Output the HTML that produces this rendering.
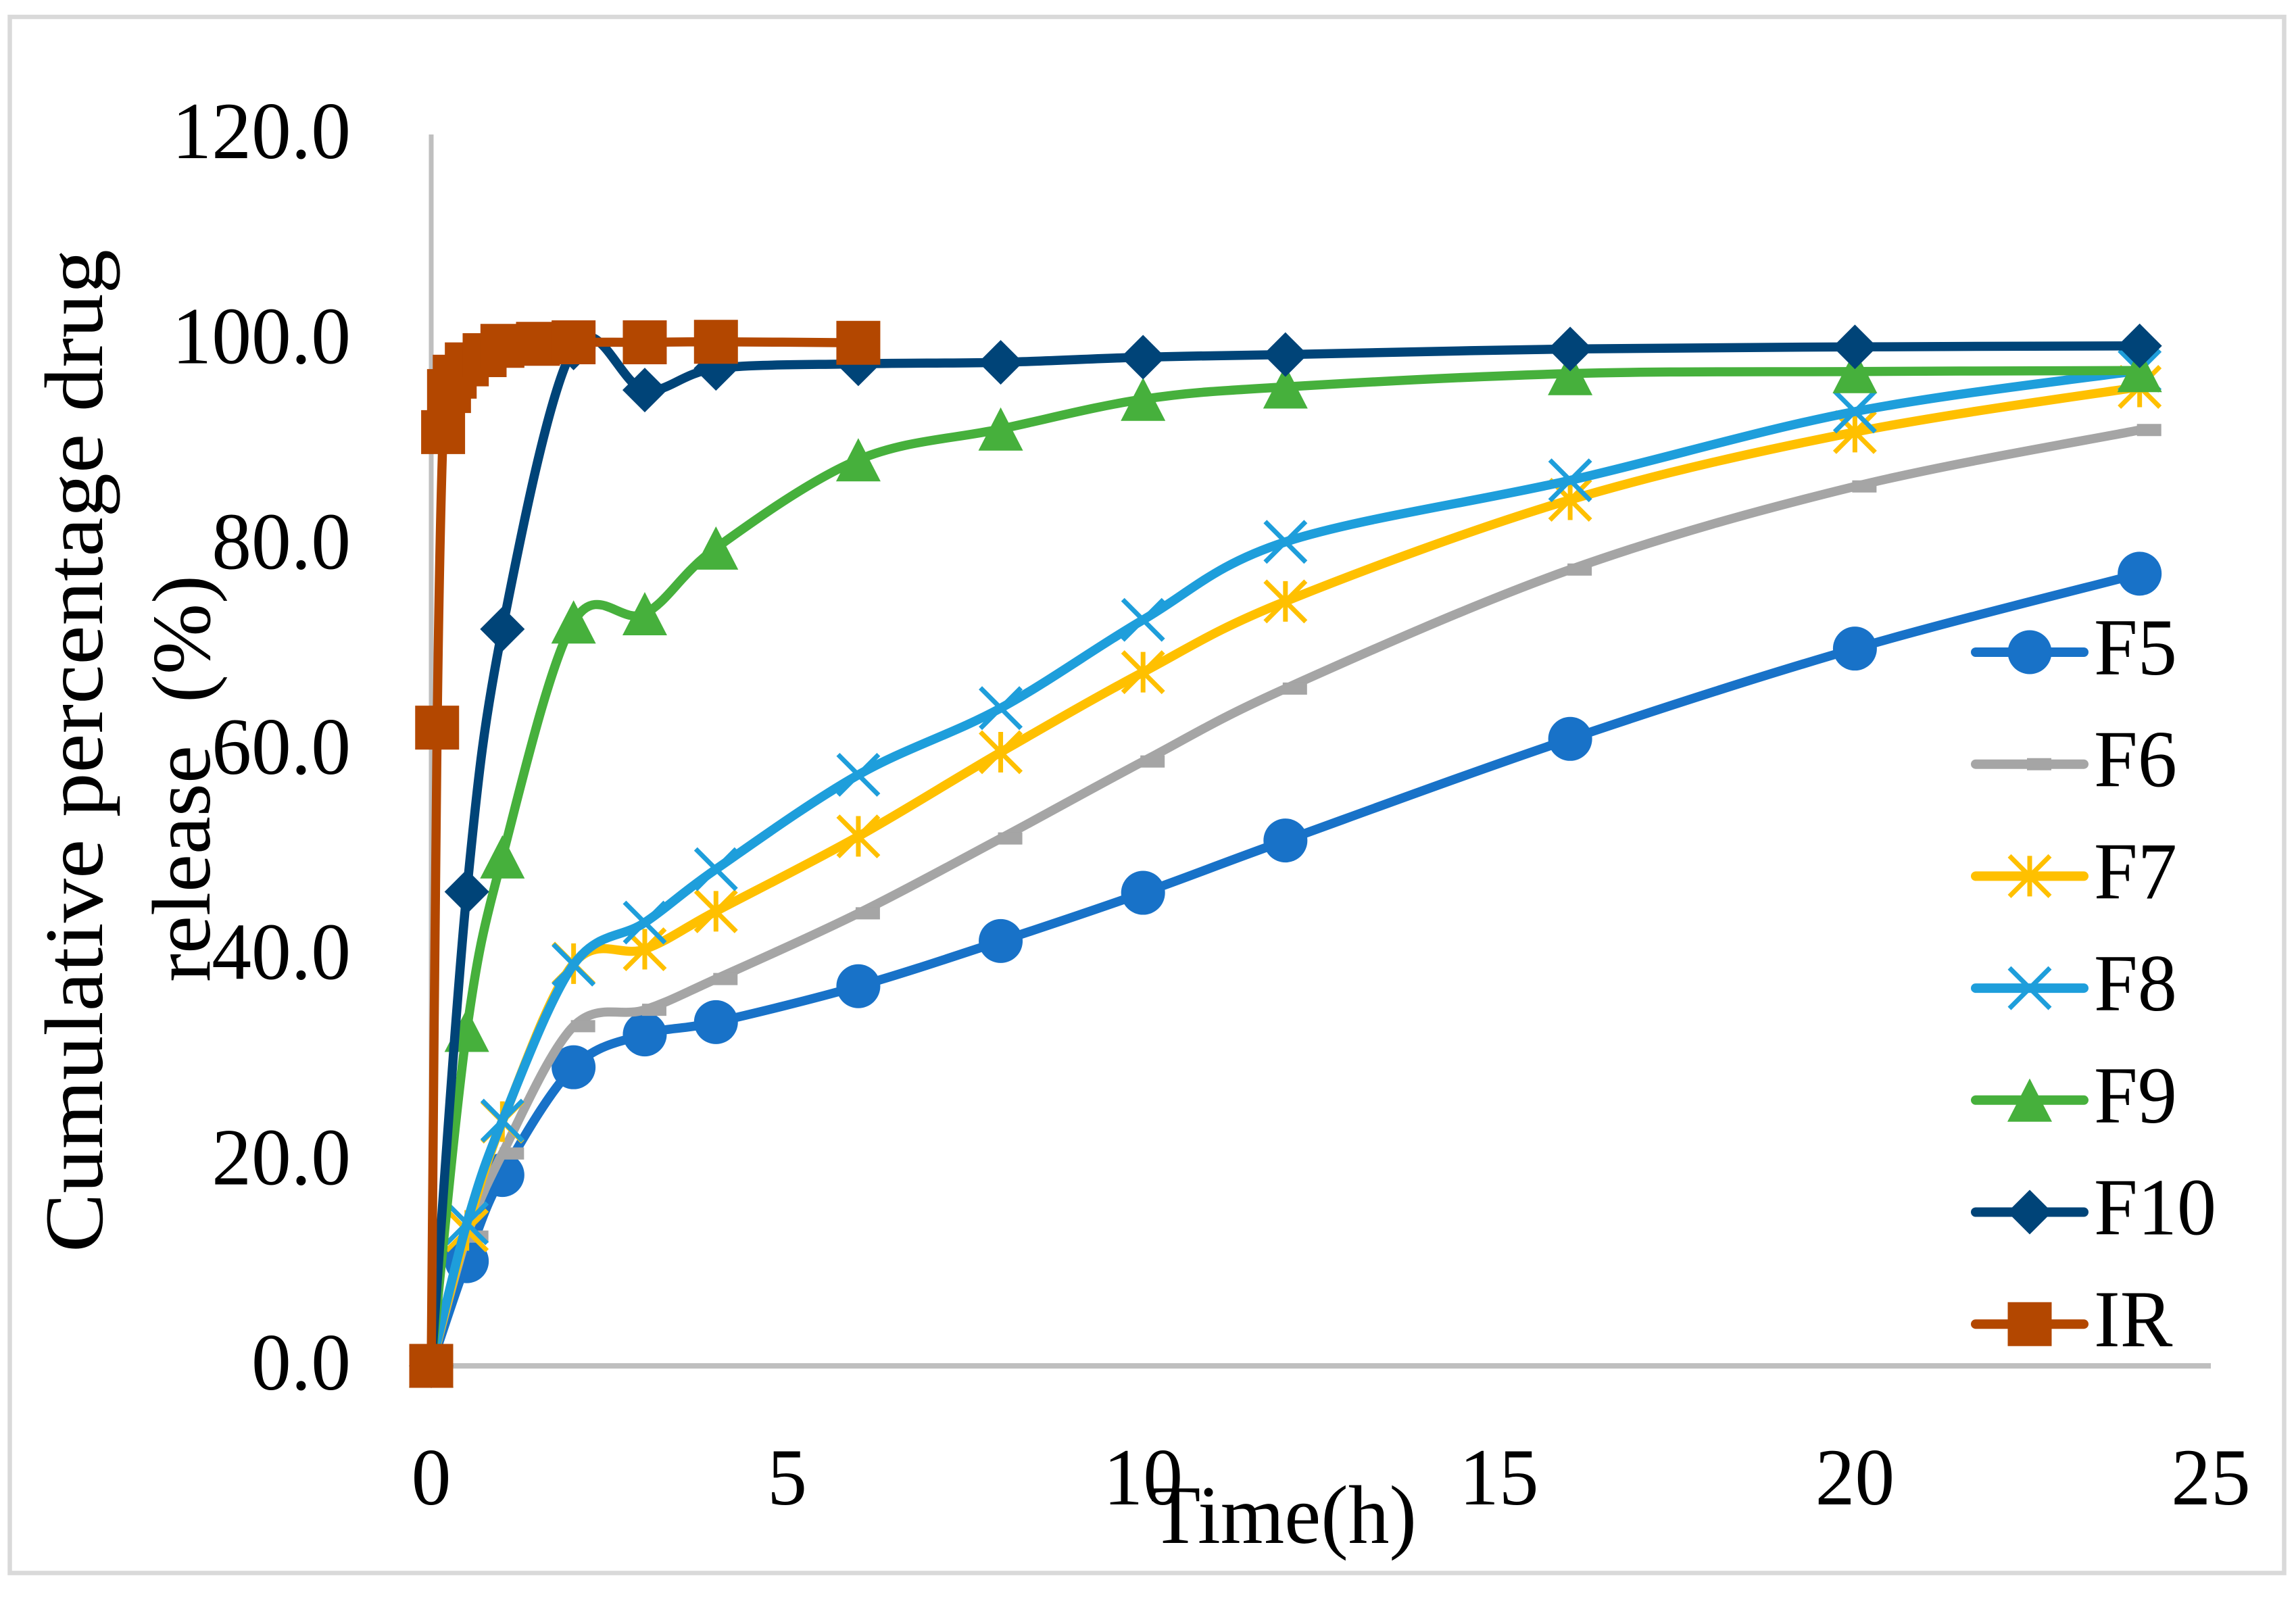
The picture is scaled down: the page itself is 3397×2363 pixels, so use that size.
<!DOCTYPE html>
<html>
<head>
<meta charset="utf-8">
<title>Cumulative drug release</title>
<style>
html,body{margin:0;padding:0;background:#fff;width:3397px;height:2363px;overflow:hidden}
svg{display:block}
text{font-family:"Liberation Serif",serif;fill:#000}
</style>
</head>
<body>
<svg id="chart" xmlns="http://www.w3.org/2000/svg" width="3397" height="2363" viewBox="0 0 3397 2363">
<rect x="14.5" y="25" width="3365" height="2302.5" fill="#fff" stroke="#d9d9d9" stroke-width="6.5"/>
<text transform="translate(151,1853) rotate(-90)" font-size="123" textLength="1484" lengthAdjust="spacingAndGlyphs">Cumulative percentage drug</text>
<text transform="translate(310,1453) rotate(-90)" font-size="123" textLength="602" lengthAdjust="spacingAndGlyphs" style="white-space:pre">release  (%)</text>
<text transform="translate(1702,2283)" font-size="123" textLength="394" lengthAdjust="spacingAndGlyphs">Time(h)</text>
<g id="axes"></g>
<g id="series"></g>
<g id="legend"></g>
</svg>
<script>
const xTicks = [0, 5, 10, 15, 20, 25];
const yTicks = ["0.0", "20.0", "40.0", "60.0", "80.0", "100.0", "120.0"];
const times = [0, 0.5, 1, 2, 3, 4, 6, 8, 10, 12, 16, 20, 24];
const irTimes = [0, 0.083, 0.167, 0.25, 0.33, 0.5, 0.75, 1, 1.5, 2, 3, 4, 6];
const f5Values = [0, 10.2, 18.6, 29.1, 32.3, 33.5, 37, 41.4, 46.1, 51.2, 61.1, 69.9, 77.2];
const f6Values = [0, 12.6, 20.7, 33.1, 34.7, 37.7, 44.1, 51.4, 58.9, 66, 77.6, 85.7, 91.2];
const f7Values = [0, 13.2, 23.8, 39.2, 40.6, 44.3, 51.6, 59.8, 67.6, 74.5, 84.4, 91, 95.4];
const f8Values = [0, 13.9, 23.9, 39.1, 43.2, 48.4, 57.6, 64.1, 72.7, 80.3, 86.3, 93, 97];
const f9Values = [0, 32.7, 49.6, 72.5, 73.3, 79.7, 88.3, 91.3, 94.2, 95.4, 96.7, 96.9, 97];
const f10Values = [0, 46.2, 71.8, 99.2, 95.1, 97.2, 97.65, 97.8, 98.3, 98.55, 99.1, 99.3, 99.4];
const irValues = [0, 62.2, 91, 95, 96.4, 97.6, 98.5, 99.4, 99.6, 99.75, 99.75, 99.8, 99.7];
const seriesNames = ["F5", "F6", "F7", "F8", "F9", "F10", "IR"];
const seriesColors = ["#1872c8", "#a5a5a5", "#ffc000", "#1e9edb", "#46b03c", "#004478", "#b34700"];
const seriesShapes = ["circle", "dash", "star", "cross", "triangle", "diamond", "square"];

const NS = "http://www.w3.org/2000/svg";
const X0 = 638, X1 = 3271, Y0 = 2021, Y1 = 199, XMAX = 25, YMAX = 120;
function xScale(t) { return X0 + (X1 - X0) * t / XMAX; }
function yScale(v) { return Y0 - (Y0 - Y1) * v / YMAX; }
function svgEl(tag, parent) {
  const el = document.createElementNS(NS, tag);
  parent.appendChild(el);
  return el;
}
function smoothPath(pts) {
  let d = "M" + pts[0][0] + " " + pts[0][1];
  for (let i = 0; i < pts.length - 1; i++) {
    const p0 = pts[Math.max(i - 1, 0)], p1 = pts[i], p2 = pts[i + 1], p3 = pts[Math.min(i + 2, pts.length - 1)];
    const c1x = p1[0] + (p2[0] - p0[0]) / 6, c1y = p1[1] + (p2[1] - p0[1]) / 6;
    const c2x = p2[0] - (p3[0] - p1[0]) / 6, c2y = p2[1] - (p3[1] - p1[1]) / 6;
    d += "C" + c1x + " " + c1y + " " + c2x + " " + c2y + " " + p2[0] + " " + p2[1];
  }
  return d;
}
function drawMarker(parent, shape, color, x, y, label) {
  const g = svgEl("g", parent);
  
  
  let d = "";
  if (shape === "circle") d = "M" + (x - 32.5) + " " + y + "a32.5 32.5 0 1 0 65 0a32.5 32.5 0 1 0 -65 0Z";
  if (shape === "dash") d = "M" + (x - 4) + " " + (y - 9) + "h36v18h-36Z";
  if (shape === "triangle") d = "M" + x + " " + (y - 32) + "L" + (x + 33) + " " + (y + 32) + "H" + (x - 33) + "Z";
  if (shape === "diamond") d = "M" + x + " " + (y - 33) + "L" + (x + 33) + " " + y + "L" + x + " " + (y + 33) + "L" + (x - 33) + " " + y + "Z";
  if (shape === "square") d = "M" + (x - 32.5) + " " + (y - 32.5) + "h65v65h-65Z";
  const p = svgEl("path", g);
  if (d) {
    p.setAttribute("d", d);
    p.setAttribute("fill", color);
  } else {
    let s = "M" + (x - 30) + " " + (y - 30) + "L" + (x + 30) + " " + (y + 30) + "M" + (x + 30) + " " + (y - 30) + "L" + (x - 30) + " " + (y + 30);
    if (shape === "star") s += "M" + x + " " + (y - 30) + "V" + (y + 30);
    p.setAttribute("d", s);
    p.setAttribute("fill", "none");
    p.setAttribute("stroke", color);
    p.setAttribute("stroke-width", "7");
  }
}
function scaledText(parent, str, x, y, size, sx, anchor, label) {
  const t = svgEl("text", parent);
  
  
  t.setAttribute("transform", "translate(" + x + "," + y + ") scale(" + sx + ",1)");
  t.setAttribute("font-size", size);
  t.setAttribute("text-anchor", anchor);
  t.textContent = str;
  return t;
}

const axes = document.getElementById("axes");
const yLine = svgEl("line", axes);


yLine.setAttribute("x1", X0); yLine.setAttribute("x2", X0);
yLine.setAttribute("y1", Y1); yLine.setAttribute("y2", Y0);
yLine.setAttribute("stroke", "#bfbfbf"); yLine.setAttribute("stroke-width", "7");
const xLine = svgEl("line", axes);


xLine.setAttribute("x1", X0); xLine.setAttribute("x2", X1);
xLine.setAttribute("y1", Y0); xLine.setAttribute("y2", Y0);
xLine.setAttribute("stroke", "#bfbfbf"); xLine.setAttribute("stroke-width", "8");
yTicks.forEach(function (lab) {
  scaledText(axes, lab, 519, yScale(parseFloat(lab)) + 35, 120, 0.98, "end", "y-tick-label");
});
xTicks.forEach(function (t) {
  scaledText(axes, String(t), xScale(t), 2226, 120, 0.98, "middle", "x-tick-label");
});

const seriesValues = [f5Values, f6Values, f7Values, f8Values, f9Values, f10Values, irValues];
const seriesRoot = document.getElementById("series");
seriesNames.forEach(function (name, i) {
  const ts = name === "IR" ? irTimes : times;
  const vals = seriesValues[i];
  const pts = vals.map(function (v, k) { return [xScale(ts[k]), yScale(v)]; });
  const g = svgEl("g", seriesRoot);
  
  
  const path = svgEl("path", g);
  
  
  path.setAttribute("d", smoothPath(pts));
  path.setAttribute("fill", "none");
  path.setAttribute("stroke", seriesColors[i]);
  path.setAttribute("stroke-width", "13.5");
  path.setAttribute("stroke-linejoin", "round");
  pts.forEach(function (p) {
    drawMarker(g, seriesShapes[i], seriesColors[i], p[0], p[1], "point-" + name.toLowerCase());
  });
});

const legend = document.getElementById("legend");
seriesNames.forEach(function (name, i) {
  const y = 965 + 165.7 * i;
  const g = svgEl("g", legend);
  
  
  const l = svgEl("line", g);
  
  
  l.setAttribute("x1", 2923); l.setAttribute("x2", 3083);
  l.setAttribute("y1", y); l.setAttribute("y2", y);
  l.setAttribute("stroke", seriesColors[i]);
  l.setAttribute("stroke-width", "14");
  l.setAttribute("stroke-linecap", "round");
  drawMarker(g, seriesShapes[i], seriesColors[i], 3003, y, "legend-marker");
  scaledText(g, name, 3098, y + 33, 120, 0.97, "start", "legend-label");
});
</script>
</body>
</html>
